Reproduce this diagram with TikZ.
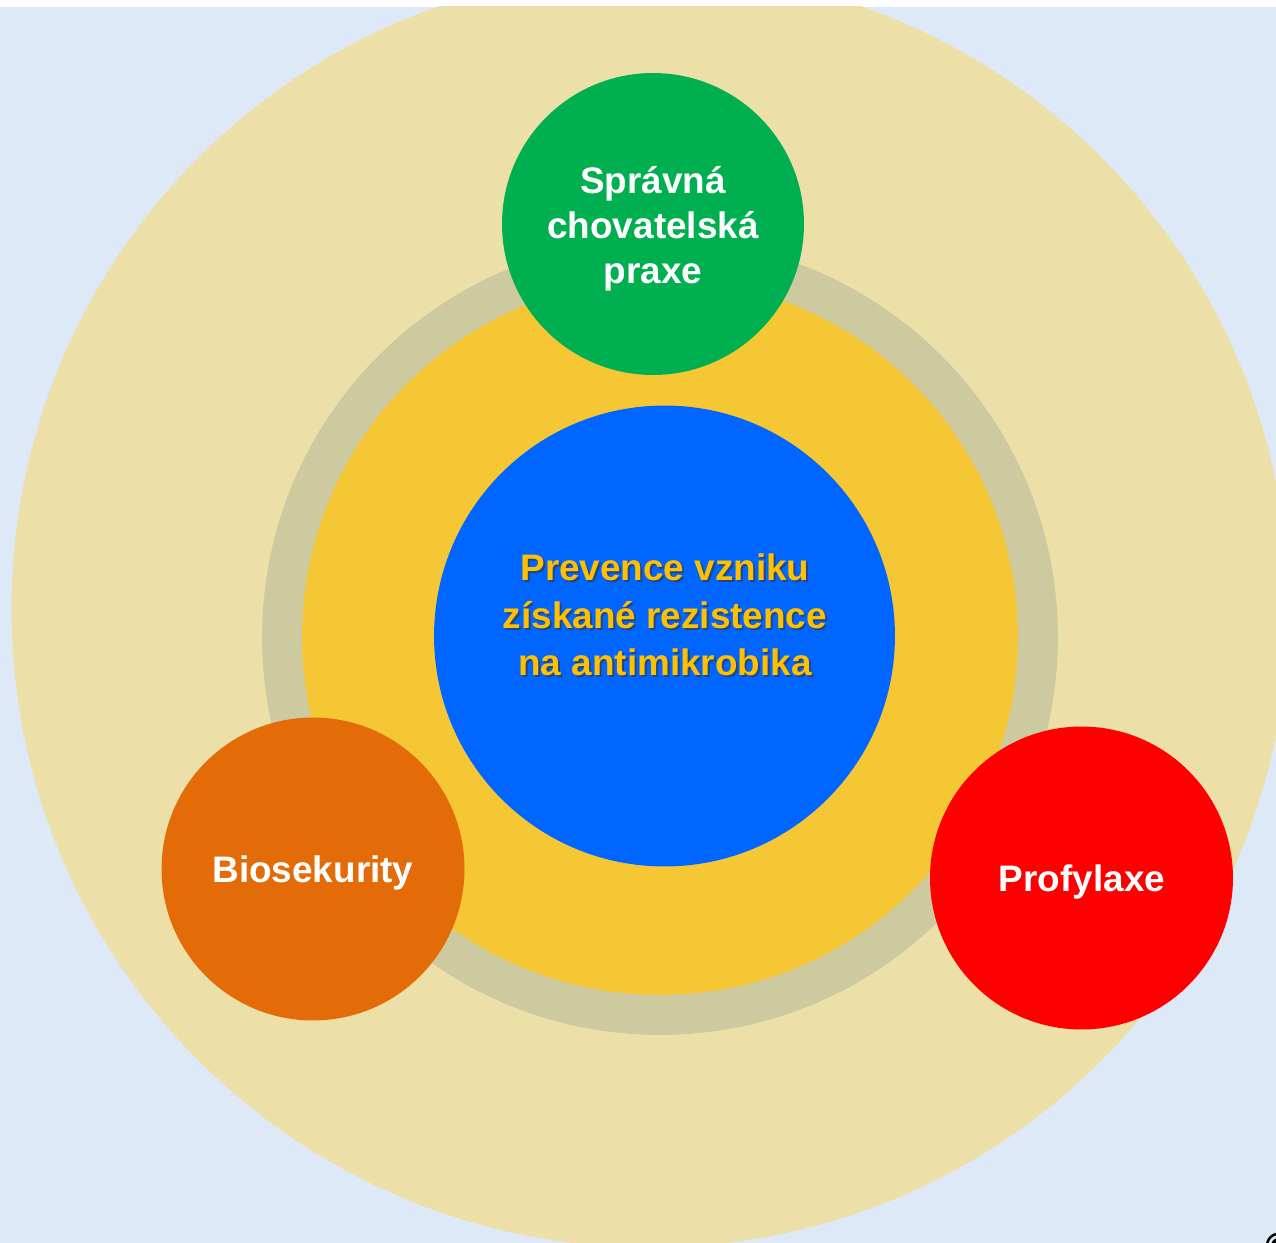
\documentclass[tikz,border=0pt]{standalone}
\usepackage{fontspec}
\setmainfont{Liberation Sans}
\newfontfamily\symfont{DejaVu Sans}
\definecolor{bgblue}{HTML}{DDE9F7}
\definecolor{paleyel}{HTML}{ECE0A8}
\definecolor{ringgray}{HTML}{CDCAA0}
\definecolor{ringyel}{HTML}{F6C734}
\definecolor{coreblue}{HTML}{0066FF}
\definecolor{txtgold}{HTML}{FFC000}
\definecolor{pgreen}{HTML}{00B050}
\definecolor{porange}{HTML}{E36C09}
\definecolor{pred}{HTML}{FF0000}
\tikzset{
  disc/.style={circle, inner sep=0pt, minimum size=#1},
  lbl/.style={font=\bfseries\fontsize{21}{25.5}\selectfont, text=white, align=center},
  coretxt/.style={font=\bfseries\fontsize{21}{27}\selectfont, align=center},
}
\begin{document}
\begin{tikzpicture}[x=0.02cm, y=-0.02cm]
\useasboundingbox (0,0) rectangle (1276,1243);
\fill[white] (0,0) rectangle (1276,1243);
\fill[bgblue] (0,7) rectangle (1276,1243);
\begin{scope}
  \clip (0,7) rectangle (1276,1243);
  \fill[paleyel] (650,609) circle (638.5);
\end{scope}
\node[disc=15.92cm, fill=ringgray] (ring) at (660,637) {};
\node[disc=14.32cm, fill=ringyel] (inner) at (660,637) {};
\node[disc=9.22cm, fill=coreblue] (core) at (664.5,636) {};
\node[coretxt, text=black!80, opacity=0.6] (coreshadow) at (667,617) {Prevence vzniku\\získané rezistence\\na antimikrobika};
\node[coretxt, text=txtgold] (coretext) at (665,615) {Prevence vzniku\\získané rezistence\\na antimikrobika};
\node[disc=6.04cm, fill=pgreen] (praxe) at (653,224) {};
\node[disc=6.06cm, fill=porange] (bio) at (313,869) {};
\node[disc=6.06cm, fill=pred] (prof) at (1081.5,878) {};
\node[lbl] (praxetext) at (653,229) {Správná\\chovatelská\\praxe};
\node[lbl] (biotext) at (313,873) {Biosekurity};
\node[lbl] (proftext) at (1082,882) {Profylaxe};
\node[font=\symfont\bfseries\fontsize{20}{20}\selectfont, anchor=north west, inner sep=0pt] (copy) at (1261,1233) {©};
\end{tikzpicture}
\end{document}
